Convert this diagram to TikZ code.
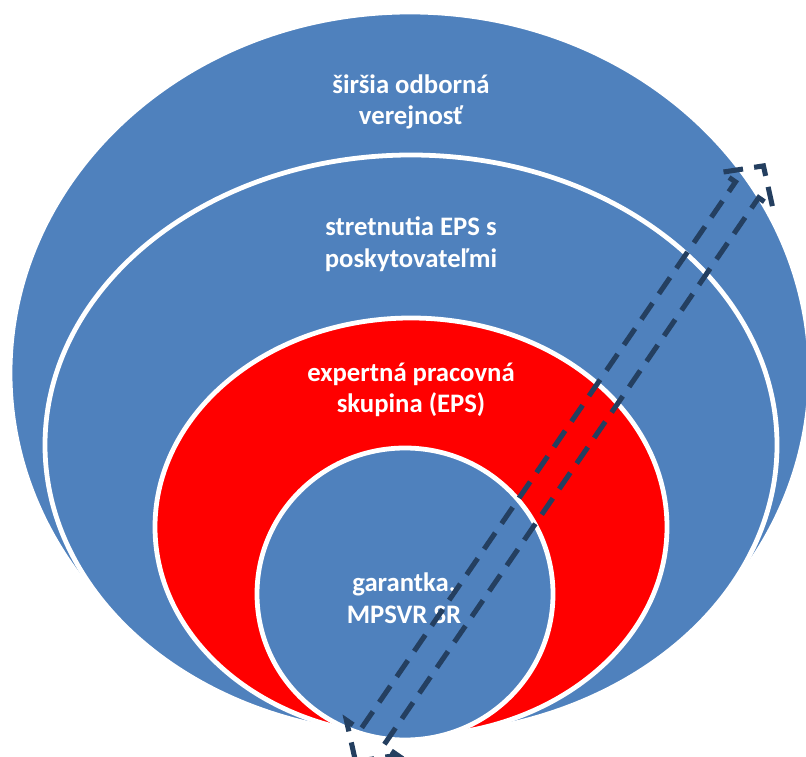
\documentclass[tikz,border=0pt]{standalone}
\usepackage{fontspec}
\setmainfont{Carlito}
\usepackage[HTML]{xcolor}
\usetikzlibrary{positioning}
\definecolor{ringblue}{HTML}{4F81BD}
\definecolor{ringred}{HTML}{FF0000}
\definecolor{arrowdark}{HTML}{243F60}

\begin{document}
\begin{tikzpicture}[x=0.025cm, y=0.025cm,
  every node/.style={font=\bfseries\fontsize{19}{22.5}\selectfont, text=white, align=center}]
\useasboundingbox (0,0) rectangle (806,756);

% --- Nested rings (outer to inner) ---
\foreach \cx/\cy/\rx/\ry/\col in {410/383/400/361/ringblue, 411/311/366/290/ringblue,
                                  411/229/256/209/ringred, 405/162/148/146/ringblue}{
  \filldraw[fill=\col, draw=white, line width=3.4pt] (\cx,\cy) ellipse ({\rx} and {\ry});
}

% --- Ring labels ---
\node (verejnost) at (411,654) {širšia odborná\\verejnosť};
\node (stretnutia) at (411,512) {stretnutia EPS s\\poskytovateľmi};
\node (eps) at (411,366) {expertná pracovná\\skupina (EPS)};
\node (garantka) at (404,158) {garantka,\\MPSVR SR};

% --- Dashed double arrow across the rings ---
\begin{scope}[shift={(559.5,292.25)}, rotate=55.6]
  \draw[arrowdark, line width=3.6pt, dash pattern=on 14pt off 8pt]
    (-361,0) -- (-332,31) -- (-332,14) -- (332,14) -- (332,31) -- (361,0)
    -- (332,-31) -- (332,-14) -- (-332,-14) -- (-332,-31) -- cycle;
\end{scope}
\end{tikzpicture}
\end{document}
